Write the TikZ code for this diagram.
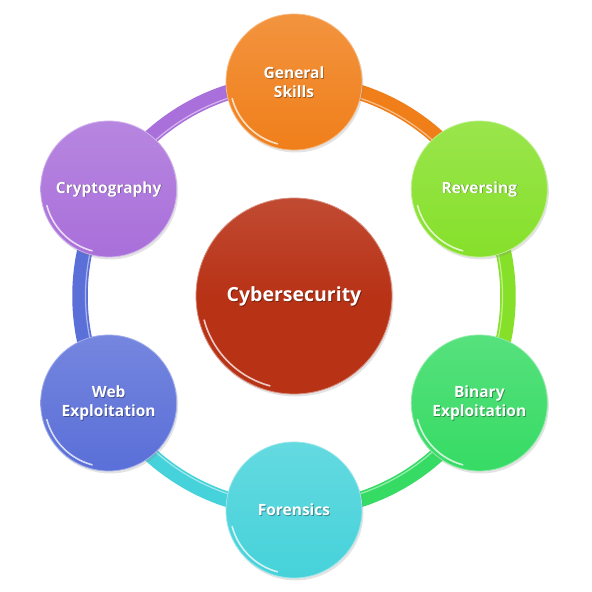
\documentclass[tikz,border=0pt]{standalone}
\usepackage{fontspec}
\setmainfont{Open Sans}
\usetikzlibrary{shadows}
\definecolor{cOrange}{HTML}{F07F1A}
\definecolor{cLime}{HTML}{86E02A}
\definecolor{cGreen}{HTML}{36DB64}
\definecolor{cCyan}{HTML}{46D2DA}
\definecolor{cBlue}{HTML}{5A6FD8}
\definecolor{cPurple}{HTML}{A96FDA}
\definecolor{cRed}{HTML}{B83216}
\begin{document}
\begin{tikzpicture}[x=1pt,y=1pt,
  bub/.style={circle, minimum size=#1, inner sep=0pt, drop shadow={shadow xshift=1.5pt, shadow yshift=-2.5pt, opacity=0.22}},
  ringseg/.style={line width=15.5pt, draw=#1},
  ringhl/.style={line width=1.2pt, draw=white, opacity=0.5},
  rim/.style={line width=1.6pt, draw=white, opacity=0.75, line cap=round},
  lbl/.style={text=white, align=center, font=\bfseries\fontsize{15.5}{19}\selectfont},
  lblsh/.style={text=black, opacity=0.35, align=center, font=\bfseries\fontsize{15.5}{19}\selectfont},
  biglbl/.style={text=white, font=\bfseries\fontsize{19.5}{22}\selectfont},
  biglblsh/.style={text=black, opacity=0.35, font=\bfseries\fontsize{19.5}{22}\selectfont}]
\useasboundingbox (-294,-296) rectangle (298,296);
% anchor coordinates on the ring
\foreach \n/\a in {gs/90, rev/30, bin/-30, for/-90, web/210, cry/150}
  \coordinate (\n) at (\a:214);
% ring segments (coloured like the circle they lead to)
\foreach \p/\a/\c in {rev/90/cOrange, bin/30/cLime, for/-30/cGreen, web/270/cCyan, cry/210/cBlue, gs/150/cPurple}{
  \draw[ringseg=\c] (\p) arc[start angle=\a-60, end angle=\a, radius=214];
  \draw[ringhl] ([shift={(\a-60:-5.5)}]\p) arc[start angle=\a-60, end angle=\a, radius=208.5];
}
% outer bubbles
\foreach \n/\c/\t in {gs/cOrange/{General\\Skills}, rev/cLime/{Reversing}, bin/cGreen/{Binary\\Exploitation}, for/cCyan/{Forensics}, web/cBlue/{Web\\Exploitation}, cry/cPurple/{Cryptography}}{
  \node[bub=136pt, top color=\c!84!white, bottom color=\c, draw=\c!55!white, line width=0.8pt] (\n b) at (\n) {};
  \draw[rim] ([shift={(195:64)}]\n) arc[start angle=195, end angle=255, radius=64];
  \node[lblsh] (\n s) at ([shift={(0.8,-0.9)}]\n) {\t};
  \node[lbl] (\n t) at (\n) {\t};
}
% centre bubble
\coordinate (cen) at (0,0);
\node[bub=196pt, top color=cRed!88!white, bottom color=cRed, middle color=cRed, draw=cRed!55!white, line width=0.8pt] (cenb) at (cen) {};
\draw[rim] ([shift={(195:93)}]cen) arc[start angle=195, end angle=255, radius=93];
\node[biglblsh] (cens) at ([shift={(0.9,-1)}]cen) {Cybersecurity};
\node[biglbl] (cent) at (cen) {Cybersecurity};
\end{tikzpicture}
\end{document}
